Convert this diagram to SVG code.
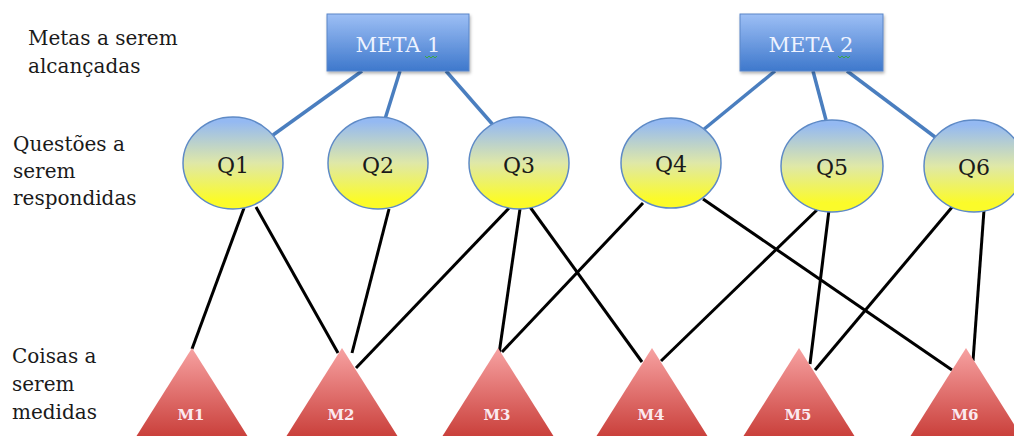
<svg xmlns="http://www.w3.org/2000/svg" width="1014" height="436" viewBox="0 0 1014 436">
  <style>
    .side { font-family: "DejaVu Serif", "Liberation Serif", serif; font-size: 20px; fill: #1a1a1a; }
    .meta-box { fill: url(#metaFill); stroke: #5b86c8; stroke-width: 1; filter: url(#softShadow); }
    .meta-text { font-family: "DejaVu Serif", "Liberation Serif", serif; font-size: 21px; fill: #eef3ff; text-anchor: middle; }
    .q-node { fill: url(#qFill); stroke: #5e8ac6; stroke-width: 1.5; }
    .q-text { font-family: "DejaVu Serif", "Liberation Serif", serif; font-size: 22px; fill: #1a1a1a; text-anchor: middle; }
    .m-node { fill: url(#mFill); }
    .m-text { font-family: "DejaVu Serif", "Liberation Serif", serif; font-size: 15px; font-weight: bold; fill: #fbeaf0; text-anchor: middle; }
    .goal-link { stroke: #4a7ebf; stroke-width: 3.5; fill: none; }
    .measure-link { stroke: #000; stroke-width: 3; fill: none; }
    .squiggle { stroke: #3aa845; stroke-width: 1; fill: none; }
  </style>
  <defs>
    <linearGradient id="metaFill" x1="0" y1="0" x2="0" y2="1">
      <stop offset="0" stop-color="#9dbff5"/>
      <stop offset="1" stop-color="#3e78cc"/>
    </linearGradient>
    <linearGradient id="qFill" x1="0" y1="0" x2="0" y2="1">
      <stop offset="0.05" stop-color="#94b9f2"/>
      <stop offset="0.5" stop-color="#dfe8a8"/>
      <stop offset="0.9" stop-color="#fbfb2a"/>
    </linearGradient>
    <linearGradient id="mFill" x1="0" y1="0" x2="0" y2="1">
      <stop offset="0" stop-color="#f7a2a2"/>
      <stop offset="1" stop-color="#c83c37"/>
    </linearGradient>
    <filter id="softShadow" x="-10%" y="-10%" width="120%" height="130%">
      <feDropShadow dx="1" dy="2" stdDeviation="1.5" flood-color="#000" flood-opacity="0.3"/>
    </filter>
  </defs>

  <!-- row captions -->
  <g id="captions">
    <text class="side" x="28" y="45">Metas a serem</text>
    <text class="side" x="28" y="73">alcançadas</text>
    <text class="side" x="13" y="151">Questões a</text>
    <text class="side" x="13" y="178">serem</text>
    <text class="side" x="13" y="205">respondidas</text>
    <text class="side" x="12" y="363">Coisas a</text>
    <text class="side" x="12" y="391">serem</text>
    <text class="side" x="12" y="419">medidas</text>
  </g>

  <!-- connectors -->
  <g id="connectors">
    <line class="goal-link" x1="362" y1="71" x2="273" y2="135"/>
    <line class="goal-link" x1="400" y1="71" x2="385" y2="119"/>
    <line class="goal-link" x1="446" y1="71" x2="494" y2="126"/>
    <line class="goal-link" x1="775" y1="71" x2="703" y2="130"/>
    <line class="goal-link" x1="813" y1="71" x2="826" y2="120"/>
    <line class="goal-link" x1="847" y1="71" x2="935" y2="137"/>

    <line class="measure-link" x1="244" y1="208" x2="192" y2="349"/>
    <line class="measure-link" x1="256" y1="207" x2="338" y2="353"/>
    <line class="measure-link" x1="389" y1="209" x2="352" y2="353"/>
    <line class="measure-link" x1="510" y1="207" x2="356" y2="368"/>
    <line class="measure-link" x1="520" y1="209" x2="499" y2="354"/>
    <line class="measure-link" x1="530" y1="207" x2="642" y2="362"/>
    <line class="measure-link" x1="643" y1="203" x2="502" y2="352"/>
    <line class="measure-link" x1="703" y1="199" x2="952" y2="370"/>
    <line class="measure-link" x1="820" y1="207" x2="661" y2="361"/>
    <line class="measure-link" x1="829" y1="210" x2="810" y2="364"/>
    <line class="measure-link" x1="953" y1="206" x2="815" y2="370"/>
    <line class="measure-link" x1="984" y1="210" x2="973" y2="361"/>
  </g>

  <!-- goals -->
  <g id="meta1">
    <rect class="meta-box" x="327" y="14" width="142" height="57"/>
    <text class="meta-text" x="398" y="52">META 1</text>
    <path class="squiggle" d="M425 56 l2 2 l2 -2 l2 2 l2 -2 l2 2 l2 -2"/>
  </g>
  <g id="meta2">
    <rect class="meta-box" x="740" y="14" width="143" height="57"/>
    <text class="meta-text" x="811" y="52">META 2</text>
    <path class="squiggle" d="M838 56 l2 2 l2 -2 l2 2 l2 -2 l2 2 l2 -2"/>
  </g>

  <!-- questions -->
  <g id="q1">
    <ellipse class="q-node" cx="233" cy="163" rx="50" ry="46"/>
    <text class="q-text" x="233" y="173">Q1</text>
  </g>
  <g id="q2">
    <ellipse class="q-node" cx="378" cy="163" rx="50" ry="46"/>
    <text class="q-text" x="378" y="173">Q2</text>
  </g>
  <g id="q3">
    <ellipse class="q-node" cx="519" cy="163" rx="50" ry="46"/>
    <text class="q-text" x="519" y="173">Q3</text>
  </g>
  <g id="q4">
    <ellipse class="q-node" cx="671" cy="163" rx="50" ry="45"/>
    <text class="q-text" x="671" y="172">Q4</text>
  </g>
  <g id="q5">
    <ellipse class="q-node" cx="832" cy="166" rx="51" ry="46"/>
    <text class="q-text" x="832" y="175">Q5</text>
  </g>
  <g id="q6">
    <ellipse class="q-node" cx="974" cy="166" rx="50" ry="46"/>
    <text class="q-text" x="974" y="175">Q6</text>
  </g>

  <!-- measures -->
  <g id="m1">
    <polygon class="m-node" points="192,348 134,440 250,440"/>
    <text class="m-text" x="191" y="420">M1</text>
  </g>
  <g id="m2">
    <polygon class="m-node" points="342,348 284,440 400,440"/>
    <text class="m-text" x="341" y="420">M2</text>
  </g>
  <g id="m3">
    <polygon class="m-node" points="498,348 440,440 556,440"/>
    <text class="m-text" x="497" y="420">M3</text>
  </g>
  <g id="m4">
    <polygon class="m-node" points="652,348 594,440 710,440"/>
    <text class="m-text" x="651" y="420">M4</text>
  </g>
  <g id="m5">
    <polygon class="m-node" points="799,348 741,440 857,440"/>
    <text class="m-text" x="798" y="420">M5</text>
  </g>
  <g id="m6">
    <polygon class="m-node" points="966,348 908,440 1024,440"/>
    <text class="m-text" x="965" y="420">M6</text>
  </g>
</svg>
